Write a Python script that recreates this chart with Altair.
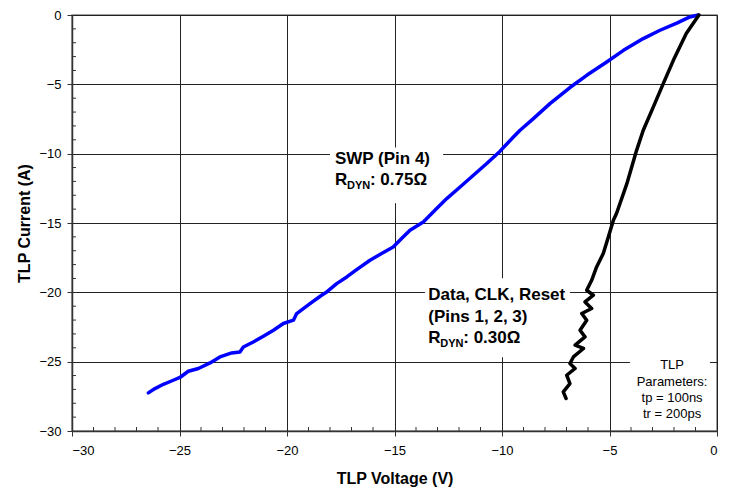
import altair as alt
import pandas as pd

# ---- data ----
swp_v = [-26.45, -26.14, -25.75, -25.29, -24.98, -24.59, -24.12, -23.58, -23.12, -22.57,
         -22.19, -22.03, -21.57, -21.10, -20.63, -20.17, -19.70, -19.55, -18.93, -18.39,
         -18.15, -17.69, -17.22, -16.76, -16.14, -15.60, -15.06, -14.67, -14.28, -13.66,
         -13.12, -12.57, -11.95, -11.33, -10.71, -10.09, -9.47, -9.16, -8.54, -7.77,
         -6.84, -6.06, -5.13, -4.35, -3.43, -2.65, -1.87, -1.26, -0.87]
swp_i = [-27.25, -26.94, -26.63, -26.34, -26.14, -25.69, -25.49, -25.09, -24.66, -24.37,
         -24.30, -23.94, -23.58, -23.17, -22.73, -22.25, -22.01, -21.53, -20.81, -20.21,
         -19.97, -19.37, -18.89, -18.36, -17.69, -17.20, -16.73, -16.12, -15.52, -14.92,
         -14.08, -13.24, -12.40, -11.56, -10.71, -9.82, -8.80, -8.31, -7.47, -6.39,
         -5.23, -4.35, -3.39, -2.55, -1.70, -1.10, -0.58, -0.14, 0.0]

dat_v = [-0.84, -1.43, -2.03, -2.50, -2.96, -3.43, -3.74, -4.20, -4.67, -4.82,
         -5.05, -5.29, -5.60, -5.83, -6.06, -5.75, -6.14, -5.83, -6.29, -6.06,
         -6.37, -6.14, -6.60, -6.21, -6.68, -6.84, -6.60, -6.99, -6.84, -7.15, -7.02]
dat_i = [0.0, -1.34, -3.27, -4.95, -6.63, -8.31, -9.76, -12.2, -14.3, -14.8,
         -16.0, -17.2, -18.17, -19.13, -19.85, -20.21, -20.69, -21.17, -21.53, -22.01,
         -22.73, -23.21, -23.81, -24.05, -24.66, -25.13, -25.49, -25.98, -26.58, -27.18, -27.66]

major_ticks = [-30, -25, -20, -15, -10, -5, 0]
minor_ticks = [t for t in range(-29, 0) if t % 5 != 0]

# annotation text
bold_text = ["SWP (Pin 4)", "Data, CLK, Reset", "(Pins 1, 2, 3)"]
bold_x = [-17.77, -13.43, -13.43]
bold_y = [-10.76, -20.57, -22.13]

r_x = [-17.77, -13.43]
r_y = [-12.28, -23.65]
r_val = [": 0.75Ω", ": 0.30Ω"]

param_text = ["TLP", "Parameters:", "tp = 100ns", "tr = 200ps"]
param_x = [-2.09, -2.09, -2.09, -2.09]
param_y = [-25.54, -26.75, -27.9, -29.03]

box_x = [-18.0, -13.58, -4.05]
box_x2 = [-12.74, -6.84, -0.33]
box_y = [-9.55, -18.98, -24.7]
box_y2 = [-13.58, -24.68, -29.85]

# ---- tables ----
rows = []
for k, (v, i) in enumerate(zip(swp_v, swp_i)):
    rows.append({"series": "SWP", "v": v, "i": i, "k": k})
for k, (v, i) in enumerate(zip(dat_v, dat_i)):
    rows.append({"series": "Data", "v": v, "i": i, "k": k})
curves = pd.DataFrame(rows)

xs = alt.Scale(domain=[-30, 0], nice=False)
ys = alt.Scale(domain=[-30, 0], nice=False)

X = alt.X("v:Q", scale=xs, title="TLP Voltage (V)",
          axis=alt.Axis(values=major_ticks, grid=True, format="d",
                        labelPadding=8, titlePadding=13))
Y = alt.Y("i:Q", scale=ys, title="TLP Current (A)",
          axis=alt.Axis(values=major_ticks, grid=True, format="d",
                        labelPadding=6, titlePadding=6))

boxes = alt.Chart(pd.DataFrame({"x": box_x, "x2": box_x2, "y": box_y, "y2": box_y2})).mark_rect(
    color="white").encode(
    x=alt.X("x:Q", scale=xs), x2="x2:Q", y=alt.Y("y:Q", scale=ys), y2="y2:Q")

lines = alt.Chart(curves).mark_line(strokeWidth=3.5, strokeJoin="round", strokeCap="round").encode(
    x=X, y=Y,
    color=alt.Color("series:N", scale=alt.Scale(domain=["SWP", "Data"], range=["#0000ff", "#000000"]),
                    legend=None),
    detail="series:N",
    order="k:Q")

bold = alt.Chart(pd.DataFrame({"t": bold_text, "x": bold_x, "y": bold_y})).mark_text(
    fontSize=17, fontWeight="bold", align="left", baseline="alphabetic", color="black").encode(
    x=alt.X("x:Q", scale=xs), y=alt.Y("y:Q", scale=ys), text="t:N")

rdf = pd.DataFrame({"x": r_x, "y": r_y, "val": r_val, "R": ["R", "R"], "sub": ["DYN", "DYN"]})
r_main = alt.Chart(rdf).mark_text(
    fontSize=17, fontWeight="bold", align="left", baseline="alphabetic", color="black").encode(
    x=alt.X("x:Q", scale=xs), y=alt.Y("y:Q", scale=ys), text="R:N")
r_sub = alt.Chart(rdf).mark_text(
    fontSize=11, fontWeight="bold", align="left", baseline="alphabetic", color="black", dx=12, dy=4).encode(
    x=alt.X("x:Q", scale=xs), y=alt.Y("y:Q", scale=ys), text="sub:N")
r_val_t = alt.Chart(rdf).mark_text(
    fontSize=17, fontWeight="bold", align="left", baseline="alphabetic", color="black", dx=35).encode(
    x=alt.X("x:Q", scale=xs), y=alt.Y("y:Q", scale=ys), text="val:N")

params = alt.Chart(pd.DataFrame({"t": param_text, "x": param_x, "y": param_y})).mark_text(
    fontSize=13, align="center", baseline="alphabetic", color="black").encode(
    x=alt.X("x:Q", scale=xs), y=alt.Y("y:Q", scale=ys), text="t:N")

minor_x = alt.Chart(pd.DataFrame({"m": minor_ticks})).mark_rule(color="#333", strokeWidth=1).encode(
    x=alt.X("m:Q", scale=xs), y=alt.value(416), y2=alt.value(412))
minor_y = alt.Chart(pd.DataFrame({"m": minor_ticks})).mark_rule(color="#333", strokeWidth=1).encode(
    y=alt.Y("m:Q", scale=ys), x=alt.value(0), x2=alt.value(4))

chart = alt.layer(boxes, lines, bold, r_main, r_sub, r_val_t, params, minor_x, minor_y).properties(
    width=645, height=416,
    autosize=alt.AutoSizeParams(type="none"),
    padding={"left": 64, "top": 7, "right": 4, "bottom": 56},
).configure(font="Liberation Sans").configure_view(
    stroke="#808080", strokeWidth=1.5
).configure_axis(
    gridColor="#222", gridWidth=1, gridOpacity=1,
    domainColor="#333", domainWidth=1.5,
    tickColor="#333", tickSize=5, tickWidth=1,
    labelFontSize=13, labelColor="black", labelFont="Liberation Sans",
    titleFontSize=16, titleFontWeight="bold", titleColor="black", titleFont="Liberation Sans",
)

chart.save("out.html", embed_options={"renderer": "svg", "actions": False})
